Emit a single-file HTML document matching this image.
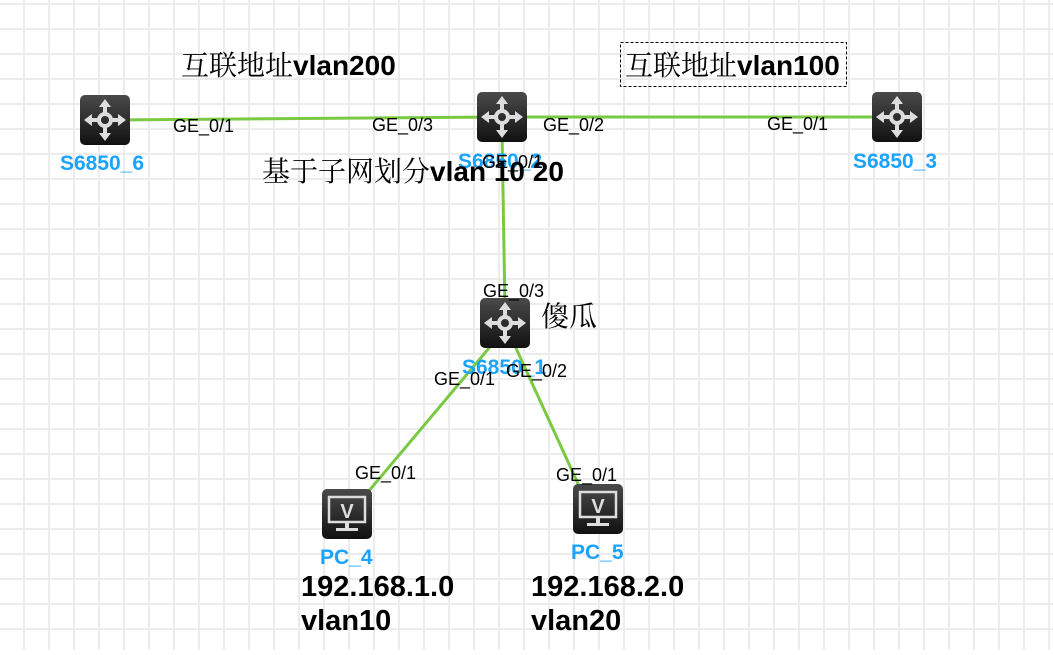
<!DOCTYPE html>
<html><head><meta charset="utf-8"><style>
html,body{margin:0;padding:0;background:#fff;}
body{width:1053px;height:650px;overflow:hidden;}
svg text{font-family:"Liberation Sans","Noto Sans CJK SC",sans-serif;}
.ge{font-size:18px;fill:#000;}
.nm{font-size:21px;font-weight:bold;fill:#1aa3ff;}
.cj{font-family:"Noto Serif CJK SC","Liberation Serif",serif !important;font-size:28px;fill:#000;}
.b{font-weight:bold;font-family:"Liberation Sans",sans-serif;}
.ip{font-size:29px;font-weight:bold;fill:#000;}
</style></head><body>
<svg width="1053" height="650" xmlns="http://www.w3.org/2000/svg">
<defs>
<pattern id="g" x="23" y="3" width="25" height="25" patternUnits="userSpaceOnUse">
<rect x="0" y="0" width="2" height="25" fill="#ececec"/><rect x="0" y="0" width="25" height="2" fill="#ececec"/>
</pattern>
<linearGradient id="sg" x1="0" y1="0" x2="0" y2="1"><stop offset="0" stop-color="#4a4a4a"/><stop offset="1" stop-color="#111"/></linearGradient>
<g id="sw">
<rect x="0" y="0" width="50" height="50" rx="5" fill="url(#sg)"/>
<g stroke="#ddd" stroke-width="4" fill="none">
<circle cx="25" cy="25" r="6"/>
<line x1="25" y1="9" x2="25" y2="19"/><line x1="25" y1="31" x2="25" y2="41"/>
<line x1="9" y1="25" x2="19" y2="25"/><line x1="31" y1="25" x2="41" y2="25"/>
</g>
<g fill="#ddd">
<polygon points="25,4 19,12 31,12"/><polygon points="25,46 19,38 31,38"/>
<polygon points="4,25 12,19 12,31"/><polygon points="46,25 38,19 38,31"/>
</g>
</g>
<g id="pc">
<rect x="0" y="0" width="50" height="50" rx="5" fill="url(#sg)"/>
<rect x="7" y="8" width="36" height="25" fill="none" stroke="#ddd" stroke-width="2.5"/>
<text x="25" y="29" text-anchor="middle" font-size="20" font-weight="bold" fill="#ddd" font-family="Liberation Sans,sans-serif">V</text>
<rect x="23" y="34" width="4" height="5" fill="#ddd"/>
<rect x="14" y="39" width="22" height="3" fill="#ddd"/>
</g>
</defs>
<rect width="1053" height="650" fill="url(#g)"/>
<g stroke="#7ac943" stroke-width="3">
<line x1="105" y1="120" x2="502" y2="117"/>
<line x1="502" y1="117" x2="897" y2="117"/>
<line x1="502" y1="130" x2="505" y2="310"/>
<line x1="500" y1="335" x2="368" y2="492"/>
<line x1="510" y1="335" x2="580" y2="488"/>
</g>
<use href="#sw" x="80" y="95"/>
<use href="#sw" x="477" y="92"/>
<use href="#sw" x="872" y="92"/>
<use href="#sw" x="480" y="298"/>
<use href="#pc" x="322" y="489"/>
<use href="#pc" x="573" y="484"/>

<text class="nm" x="60" y="170">S6850_6</text>
<text class="nm" x="458" y="168">S6850_2</text>
<text class="nm" x="853" y="168">S6850_3</text>
<text class="nm" x="462" y="374">S6850_1</text>
<text class="nm" x="320" y="564">PC_4</text>
<text class="nm" x="571" y="559">PC_5</text>

<text class="ge" x="173" y="132">GE_0/1</text>
<text class="ge" x="372" y="131">GE_0/3</text>
<text class="ge" x="543" y="131">GE_0/2</text>
<text class="ge" x="767" y="130">GE_0/1</text>
<text class="ge" x="482" y="168">GE_0/1</text>
<text class="ge" x="483" y="297">GE_0/3</text>
<text class="ge" x="434" y="385">GE_0/1</text>
<text class="ge" x="506" y="377">GE_0/2</text>
<text class="ge" x="355" y="479">GE_0/1</text>
<text class="ge" x="556" y="481">GE_0/1</text>

<text class="cj" x="181" y="75">互联地址<tspan class="b">vlan200</tspan></text>
<rect x="620.5" y="42.5" width="226" height="44" fill="none" stroke="#000" stroke-dasharray="3,2"/>
<text class="cj" x="625" y="75">互联地址<tspan class="b">vlan100</tspan></text>
<text class="cj" x="262" y="181">基于子网划分<tspan class="b">vlan 10 20</tspan></text>
<text class="cj" x="541" y="326">傻瓜</text>

<text class="ip" x="301" y="596">192.168.1.0</text>
<text class="ip" x="301" y="630">vlan10</text>
<text class="ip" x="531" y="596">192.168.2.0</text>
<text class="ip" x="531" y="630">vlan20</text>
</svg>
</body></html>
